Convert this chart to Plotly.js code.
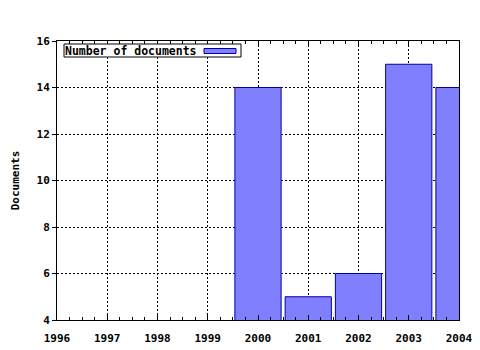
<!DOCTYPE html>
<html><head><meta charset="utf-8">
<script src="https://cdn.plot.ly/plotly-3.0.1.min.js"></script>
<style>html,body{margin:0;padding:0;background:#fff}#c{width:480px;height:350px}</style>
</head><body><div id="c"></div>
<script>
const years = [2000, 2001, 2002, 2003, 2004];
const documents = [14, 5, 6, 15, 14];
const seriesName = 'Number of documents';
const xTicks = [1996, 1997, 1998, 1999, 2000, 2001, 2002, 2003, 2004];
const yTicks = [4, 6, 8, 10, 12, 14, 16];
const yTitle = 'Documents';

const F = {family: 'DejaVu Sans Mono, monospace', size: 11, color: '#000', weight: 'bold'};

const trace = {
  type: 'bar', x: years, y: documents, name: seriesName, width: 0.92,
  marker: {color: '#8080ff', line: {color: '#0000a0', width: 1}},
  showlegend: false, hoverinfo: 'none'
};

const layout = {
  width: 480, height: 350,
  margin: {l: 57, r: 21, t: 41, b: 30, pad: 0},
  paper_bgcolor: '#fff', plot_bgcolor: '#fff',
  font: F,
  showlegend: false,
  xaxis: {
    range: [1996, 2004], tickvals: xTicks, ticktext: xTicks.map(String),
    showline: true, linecolor: '#000', linewidth: 1, mirror: 'allticks',
    ticks: 'inside', ticklen: 5, tickcolor: '#000', ticklabelstandoff: 8,
    minor: {dtick: 0.25, ticks: 'inside', ticklen: 3, tickcolor: '#000', showgrid: false},
    showgrid: true, gridcolor: '#000', griddash: '2px,2px', gridwidth: 1,
    zeroline: false, tickfont: F, fixedrange: true
  },
  yaxis: {
    range: [4, 16], tickvals: yTicks, ticktext: yTicks.map(String),
    showline: true, linecolor: '#000', linewidth: 1, mirror: true,
    ticks: 'outside', ticklen: 4, tickcolor: '#000',
    showgrid: true, gridcolor: '#000', griddash: '2px,2px', gridwidth: 1,
    zeroline: false, tickfont: F, fixedrange: true,
    title: {text: yTitle, font: F, standoff: 14}
  },
  shapes: [
    {type: 'rect', xref: 'paper', yref: 'paper',
     x0: (64-57)/402, x1: (241-57)/402, y0: (320-57)/279, y1: (320-44)/279,
     line: {color: '#000', width: 1}, fillcolor: '#fff', layer: 'above'},
    {type: 'rect', xref: 'paper', yref: 'paper',
     x0: (204-57)/402, x1: (236-57)/402, y0: (320-53.5)/279, y1: (320-48.5)/279,
     line: {color: '#0000a0', width: 1}, fillcolor: '#8080ff', layer: 'above'}
  ],
  annotations: [
    {text: seriesName, xref: 'paper', yref: 'paper', x: (63-57)/402, y: (320-50.5)/279,
     xanchor: 'left', yanchor: 'middle', showarrow: false,
     font: {family: F.family, size: 11.5, color: '#000', weight: 'bold'}}
  ]
};

Plotly.newPlot('c', [trace], layout, {staticPlot: true, displayModeBar: false});
</script></body></html>
